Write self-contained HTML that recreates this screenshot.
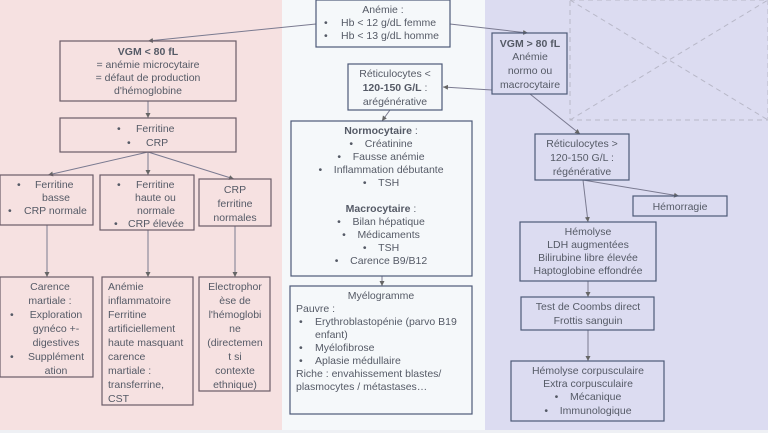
<!DOCTYPE html>
<html><head><meta charset="utf-8"><style>
html,body{margin:0;padding:0;width:768px;height:433px;overflow:hidden;background:#f4f7f9}
svg{display:block;font-family:"Liberation Sans",sans-serif;font-size:10.5px}
.l{fill:none;stroke:#6b5c68;stroke-width:1.2}
.m{fill:none;stroke:#4d5a78;stroke-width:1.2}
.c{stroke:#7a7a90;stroke-width:1;fill:none}
text{fill:#555a66}
.t{text-anchor:middle}
</style></head><body>
<svg width="768" height="433" viewBox="0 0 768 433">
<defs><marker id="a" markerWidth="6" markerHeight="6" refX="5" refY="3" orient="auto"><path d="M0,0.5 L5,3 L0,5.5z" fill="#666"/></marker></defs>
<rect x="0" y="0" width="282" height="430" fill="#f6e1e1"/>
<rect x="282" y="0" width="203" height="430" fill="#f5f8fa"/>
<rect x="485" y="0" width="283" height="430" fill="#dcdcf1"/>
<rect x="0" y="430" width="768" height="3" fill="#eef0f4"/>
<g stroke="#b8b8c8" stroke-dasharray="5,4" fill="none"><rect x="570" y="0" width="198" height="120"/><line x1="570" y1="120" x2="768" y2="0"/><line x1="570" y1="0" x2="768" y2="120"/></g>

<line class="c" x1="316" y1="24" x2="148" y2="41" marker-end="url(#a)"/>
<line class="c" x1="450" y1="24" x2="528" y2="33" marker-end="url(#a)"/>
<line class="c" x1="492" y1="90" x2="443" y2="87" marker-end="url(#a)"/>
<line class="c" x1="148" y1="101" x2="148" y2="118" marker-end="url(#a)"/>
<line class="c" x1="148" y1="152" x2="48" y2="175" marker-end="url(#a)"/>
<line class="c" x1="148" y1="152" x2="148" y2="175" marker-end="url(#a)"/>
<line class="c" x1="148" y1="152" x2="234" y2="179" marker-end="url(#a)"/>
<line class="c" x1="47" y1="225" x2="47" y2="277" marker-end="url(#a)"/>
<line class="c" x1="148" y1="230" x2="148" y2="277" marker-end="url(#a)"/>
<line class="c" x1="235" y1="226" x2="235" y2="277" marker-end="url(#a)"/>
<line class="c" x1="390" y1="110" x2="382" y2="121" marker-end="url(#a)"/>
<line class="c" x1="382" y1="276" x2="382" y2="286" marker-end="url(#a)"/>
<line class="c" x1="530" y1="94" x2="580" y2="134" marker-end="url(#a)"/>
<line class="c" x1="583" y1="180" x2="679" y2="196" marker-end="url(#a)"/>
<line class="c" x1="583" y1="180" x2="588" y2="222" marker-end="url(#a)"/>
<line class="c" x1="588" y1="281" x2="588" y2="297" marker-end="url(#a)"/>
<line class="c" x1="588" y1="330" x2="588" y2="361" marker-end="url(#a)"/>

<rect class="l" x="60" y="41" width="176" height="60"/>
<text class="t" x="148" y="55"><tspan font-weight="bold">VGM &lt; 80 fL</tspan><tspan x="148" dy="13">= anémie microcytaire</tspan><tspan x="148" dy="13">= défaut de production</tspan><tspan x="148" dy="13">d'hémoglobine</tspan></text>
<rect class="l" x="60" y="118" width="176" height="34"/>
<text x="117" y="132">•<tspan x="136">Ferritine</tspan><tspan x="127" dy="14">•</tspan><tspan x="146">CRP</tspan></text>
<rect class="l" x="0" y="175" width="93" height="50"/>
<text x="17" y="188">•<tspan x="35">Ferritine</tspan><tspan x="42" dy="13">basse</tspan><tspan x="8" dy="13">•</tspan><tspan x="24">CRP normale</tspan></text>
<rect class="l" x="100" y="175" width="94" height="55"/>
<text x="117" y="188">•<tspan x="136">Ferritine</tspan><tspan x="135" dy="13">haute ou</tspan><tspan x="137" dy="13">normale</tspan><tspan x="114" dy="13">•</tspan><tspan x="128">CRP élevée</tspan></text>
<rect class="l" x="199" y="179" width="72" height="47"/>
<text class="t" x="235" y="193">CRP<tspan x="235" dy="14">ferritine</tspan><tspan x="235" dy="14">normales</tspan></text>
<rect class="l" x="0" y="277" width="93" height="100"/>
<text class="t" x="50" y="290">Carence<tspan x="50" dy="14">martiale :</tspan><tspan x="56" dy="14">Exploration</tspan><tspan x="56" dy="14">gynéco +-</tspan><tspan x="56" dy="14">digestives</tspan><tspan x="56" dy="14">Supplément</tspan><tspan x="56" dy="14">ation</tspan></text>
<text x="10" y="318">•<tspan x="10" dy="42">•</tspan></text>
<rect class="l" x="102" y="277" width="91" height="128"/>
<text x="108" y="290">Anémie<tspan x="108" dy="14">inflammatoire</tspan><tspan x="108" dy="14">Ferritine</tspan><tspan x="108" dy="14">artificiellement</tspan><tspan x="108" dy="14">haute masquant</tspan><tspan x="108" dy="14">carence</tspan><tspan x="108" dy="14">martiale :</tspan><tspan x="108" dy="14">transferrine,</tspan><tspan x="108" dy="14">CST</tspan></text>
<rect class="l" x="199" y="277" width="71" height="114"/>
<text class="t" x="235" y="290">Electrophor<tspan x="235" dy="14">èse de</tspan><tspan x="235" dy="14">l'hémoglobi</tspan><tspan x="235" dy="14">ne</tspan><tspan x="235" dy="14">(directemen</tspan><tspan x="235" dy="14">t si</tspan><tspan x="235" dy="14">contexte</tspan><tspan x="235" dy="14">ethnique)</tspan></text>

<rect class="m" x="316" y="0" width="134" height="47" fill="#f5f8fa"/>
<text class="t" x="383" y="13">Anémie :</text>
<text x="324" y="26">•<tspan x="341">Hb &lt; 12 g/dL femme</tspan><tspan x="324" dy="13">•</tspan><tspan x="341">Hb &lt; 13 g/dL homme</tspan></text>
<rect class="m" x="348" y="64" width="94" height="46"/>
<text class="t" x="395" y="77">Réticulocytes &lt;<tspan x="395" dy="14" font-weight="bold">120-150 G/L</tspan><tspan> :</tspan><tspan x="395" dy="14">arégénérative</tspan></text>
<rect class="m" x="291" y="121" width="181" height="155"/>
<text class="t" x="381" y="134"><tspan font-weight="bold">Normocytaire</tspan> :<tspan x="381" dy="13">•&#160;&#160;&#160;&#160;Créatinine</tspan><tspan x="381" dy="13">•&#160;&#160;&#160;&#160;Fausse anémie</tspan><tspan x="381" dy="13">•&#160;&#160;&#160;&#160;Inflammation débutante</tspan><tspan x="381" dy="13">•&#160;&#160;&#160;&#160;TSH</tspan><tspan x="381" dy="26" font-weight="bold">Macrocytaire</tspan><tspan> :</tspan><tspan x="381" dy="13">•&#160;&#160;&#160;&#160;Bilan hépatique</tspan><tspan x="381" dy="13">•&#160;&#160;&#160;&#160;Médicaments</tspan><tspan x="381" dy="13">•&#160;&#160;&#160;&#160;TSH</tspan><tspan x="381" dy="13">•&#160;&#160;&#160;&#160;Carence B9/B12</tspan></text>
<rect class="m" x="290" y="286" width="182" height="128"/>
<text class="t" x="381" y="299">Myélogramme</text>
<text x="296" y="312">Pauvre :<tspan x="299" dy="13">•</tspan><tspan x="315">Erythroblastopénie (parvo B19</tspan><tspan x="315" dy="13">enfant)</tspan><tspan x="299" dy="13">•</tspan><tspan x="315">Myélofibrose</tspan><tspan x="299" dy="13">•</tspan><tspan x="315">Aplasie médullaire</tspan><tspan x="296" dy="13">Riche : envahissement blastes/</tspan><tspan x="296" dy="13">plasmocytes / métastases…</tspan></text>

<rect class="m" x="492" y="33" width="75" height="61"/>
<text class="t" x="530" y="47"><tspan font-weight="bold">VGM &gt; 80 fL</tspan><tspan x="530" dy="13">Anémie</tspan><tspan x="530" dy="14">normo ou</tspan><tspan x="530" dy="14">macrocytaire</tspan></text>
<rect class="m" x="535" y="134" width="94" height="46"/>
<text class="t" x="582" y="147">Réticulocytes &gt;<tspan x="582" dy="14">120-150 G/L :</tspan><tspan x="582" dy="14">régénérative</tspan></text>
<rect class="m" x="633" y="196" width="94" height="20"/>
<text class="t" x="680" y="210">Hémorragie</text>
<rect class="m" x="520" y="222" width="136" height="59"/>
<text class="t" x="588" y="235">Hémolyse<tspan x="588" dy="13">LDH augmentées</tspan><tspan x="588" dy="13">Bilirubine libre élevée</tspan><tspan x="588" dy="13">Haptoglobine effondrée</tspan></text>
<rect class="m" x="521" y="297" width="133" height="33"/>
<text class="t" x="588" y="310">Test de Coombs direct<tspan x="588" dy="14">Frottis sanguin</tspan></text>
<rect class="m" x="511" y="361" width="153" height="60"/>
<text class="t" x="588" y="374">Hémolyse corpusculaire<tspan x="588" dy="13">Extra corpusculaire</tspan><tspan x="588" dy="13">•&#160;&#160;&#160;&#160;Mécanique</tspan><tspan x="588" dy="14">•&#160;&#160;&#160;&#160;Immunologique</tspan></text>
</svg>
</body></html>
